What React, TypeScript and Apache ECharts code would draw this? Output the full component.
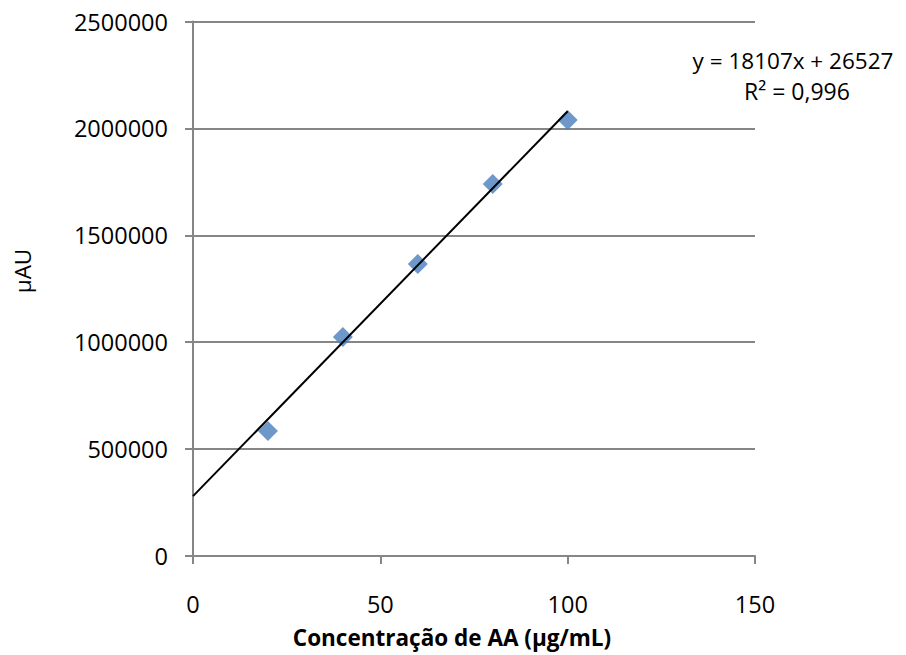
import React, { useEffect, useRef } from "react";
import * as echarts from "echarts";

const concentrations = [20, 40, 60, 80, 100];
const responses = [585000, 1024000, 1366000, 1740000, 2039000];
const trendX = [0, 100];
const trendY = [280000, 2080000];
const equationText = "y = 18107x + 26527";
const r2Text = "R² = 0,996";
const xTitle = "Concentração de AA (μg/mL)";
const yTitle = "μAU";

const FONT = "'Open Sans', sans-serif";

export default function App() {
  const ref = useRef<HTMLDivElement>(null);
  useEffect(() => {
    if (!ref.current) return;
    const chart = echarts.init(ref.current, null, { renderer: "svg" });
    const axisColor = "#868686";
    chart.setOption({
      animation: false,
      backgroundColor: "#ffffff",
      textStyle: { fontFamily: FONT },
      grid: { left: 193, top: 21.5, right: 151, bottom: 99, containLabel: false },
      xAxis: {
        type: "value",
        min: 0,
        max: 150,
        interval: 50,
        axisLine: { show: true, onZero: false, lineStyle: { color: axisColor, width: 2 } },
        axisTick: { show: true, length: 8, inside: false, lineStyle: { color: axisColor, width: 2 } },
        axisLabel: { color: "#000", fontSize: 23.5, margin: 36, fontFamily: FONT },
        splitLine: { show: false },
      },
      yAxis: {
        type: "value",
        min: 0,
        max: 2500000,
        interval: 500000,
        axisLine: { show: true, onZero: false, lineStyle: { color: axisColor, width: 2 } },
        axisTick: { show: true, length: 8, inside: false, lineStyle: { color: axisColor, width: 2 } },
        axisLabel: {
          color: "#000",
          fontSize: 23.5,
          margin: 25,
          fontFamily: FONT,
          formatter: (v: number) => String(v),
        },
        splitLine: { show: true, lineStyle: { color: axisColor, width: 2 } },
      },
      series: [
        {
          type: "line",
          data: trendX.map((x, i) => [x, trendY[i]]),
          showSymbol: false,
          symbol: "none",
          lineStyle: { color: "#000", width: 2 },
          z: 3,
        },
        {
          type: "scatter",
          data: concentrations.map((x, i) => [x, responses[i]]),
          symbol: "diamond",
          symbolSize: 20,
          itemStyle: { color: "#4A7EBB" },
          z: 2,
        },
      ],
      graphic: [
        {
          type: "text",
          x: 793,
          y: 60,
          style: {
            text: equationText,
            fontFamily: FONT,
            fontSize: 22.5,
            fill: "#000",
            align: "center",
            verticalAlign: "middle",
          },
        },
        {
          type: "text",
          x: 797,
          y: 91,
          style: {
            text: r2Text,
            fontFamily: FONT,
            fontSize: 23,
            fill: "#000",
            align: "center",
            verticalAlign: "middle",
          },
        },
        {
          type: "text",
          x: 452,
          y: 637,
          style: {
            text: xTitle,
            fontFamily: FONT,
            fontSize: 22.5,
            fontWeight: "bold",
            fill: "#000",
            align: "center",
            verticalAlign: "middle",
          },
        },
        {
          type: "text",
          x: 22,
          y: 271,
          rotation: Math.PI / 2,
          style: {
            text: yTitle,
            fontFamily: FONT,
            fontSize: 22.5,
            fill: "#000",
            align: "center",
            verticalAlign: "middle",
          },
        },
      ],
    });
    return () => chart.dispose();
  }, []);
  return (
    <div
      ref={ref}
      style={{ position: "fixed", left: 0, top: 0, width: 906, height: 655, background: "#fff" }}
    />
  );
}
